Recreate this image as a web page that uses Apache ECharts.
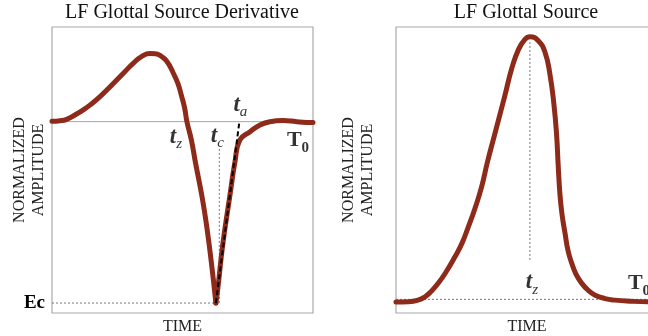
<!DOCTYPE html>
<html>
<head>
<meta charset="utf-8">
<script src="https://cdn.jsdelivr.net/npm/echarts@6/dist/echarts.min.js"></script>
<style>
html, body { margin: 0; padding: 0; background: #fff; }
#chart { width: 648px; height: 336px; }
</style>
</head>
<body>
<div id="chart"></div>
<script>
// 导数曲线 —— 开启相 (0 .. 最小点)
const derivOpenT = [0, 3.1, 5.6, 8.8, 12.0, 15.2, 18.4, 21.6, 24.8, 28.0, 31.1, 34.4, 37.5, 39.5, 41.4, 43.9, 46.5, 48.3, 49.7, 50.8, 51.7, 53.4, 55.0, 57.5, 59.3, 61.0, 62.8];
const derivOpenV = [0.002, 0.005, 0.013, 0.037, 0.065, 0.099, 0.138, 0.183, 0.230, 0.277, 0.322, 0.360, 0.376, 0.375, 0.365, 0.335, 0.267, 0.208, 0.138, 0.076, 0, -0.101, -0.228, -0.415, -0.58, -0.77, -1];
// 导数曲线 —— 返回相 (最小点 .. T0)
const derivReturnT = [62.8, 63.6, 65.5, 68.2, 70.1, 72.0, 75.9, 79.7, 83.5, 88.5, 93.8, 99.5, 100];
const derivReturnV = [-1, -0.912, -0.669, -0.404, -0.222, -0.101, -0.055, -0.018, 0, 0.006, 0, -0.005, -0.005];
// 声门源曲线
const sourceT = [0, 4.7, 8.4, 11.1, 13.4, 16.1, 19.1, 22.5, 25.2, 27.6, 30.2, 32.7, 34.9, 37.8, 41.6, 44.2, 46.7, 49.2, 51.1, 54.3, 56.9, 58.8, 60.3, 61.3, 61.9, 62.6, 63.4, 64.5, 65.6, 67.1, 68.7, 70.9, 73.3, 76.0, 79.8, 83.6, 89.3, 96.2, 100];
const sourceV = [-0.010, -0.009, -0.003, 0.010, 0.030, 0.061, 0.104, 0.162, 0.214, 0.276, 0.348, 0.429, 0.523, 0.633, 0.778, 0.880, 0.950, 0.990, 1.0, 0.985, 0.940, 0.854, 0.740, 0.626, 0.511, 0.397, 0.321, 0.253, 0.188, 0.137, 0.096, 0.061, 0.035, 0.016, 0.003, -0.003, -0.007, -0.009, -0.009];

// 关键时刻
const tz = 51.7;      // 导数过零
const tMin = 62.8;    // 最小点
const tc = 64.1;
const ta = 71.8;
const t0 = 100;
const ec = -1;
const tzSource = 51.1;

const zip = (xs, ys) => xs.map((x, i) => [x, ys[i]]);

const serif = 'Liberation Serif';
const red = '#8e2a1a';
const dotted = { color: '#777', width: 1, type: [2, 2] };

function curve(name, data, axis) {
    return {
        name: name, type: 'line', data: data,
        xAxisIndex: axis, yAxisIndex: axis,
        smooth: 0.5, symbol: 'none',
        lineStyle: { color: red, width: 5, cap: 'round', join: 'round' },
        z: 3
    };
}

function guide(name, data, axis, style, z) {
    return {
        name: name, type: 'line', data: data,
        xAxisIndex: axis, yAxisIndex: axis,
        symbol: 'none', lineStyle: style, z: z || 2
    };
}

function note(text, point, offset, axis) {
    return {
        type: 'scatter', data: [point], xAxisIndex: axis, yAxisIndex: axis,
        symbolSize: 0, silent: true, z: 5,
        label: {
            show: true, position: 'inside', offset: offset,
            formatter: text,
            rich: {
                t: { fontFamily: serif, fontSize: 23, fontStyle: 'italic', fontWeight: 'bold', color: '#000', lineHeight: 30 },
                s: { fontFamily: serif, fontSize: 15, fontStyle: 'italic', color: '#000', verticalAlign: 'bottom' },
                T: { fontFamily: serif, fontSize: 22, fontWeight: 'bold', color: '#000', lineHeight: 30 },
                n: { fontFamily: serif, fontSize: 15, fontWeight: 'bold', color: '#000', verticalAlign: 'bottom' }
            }
        }
    };
}

const nameStyle = { fontFamily: serif, fontSize: 16, color: '#222', lineHeight: 19 };

const chart = echarts.init(document.getElementById('chart'));

chart.setOption({
    animation: false,
    title: [
        { text: 'LF Glottal Source Derivative', left: 182, top: 3, textAlign: 'center', padding: 0,
          textStyle: { fontFamily: serif, fontSize: 20, fontWeight: 'normal', color: '#111' } },
        { text: 'LF Glottal Source', left: 526, top: 3, textAlign: 'center', padding: 0,
          textStyle: { fontFamily: serif, fontSize: 20, fontWeight: 'normal', color: '#111' } }
    ],
    grid: [
        { left: 52, top: 27, width: 261, height: 286, show: true, borderColor: '#aaa', borderWidth: 1.2, outerBoundsMode: 'none' },
        { left: 396, top: 27, width: 262, height: 286, show: true, borderColor: '#aaa', borderWidth: 1.2, outerBoundsMode: 'none' }
    ],
    xAxis: [0, 1].map(i => ({
        type: 'value', gridIndex: i, min: 0, max: 100,
        axisLine: { show: false }, axisTick: { show: false }, axisLabel: { show: false }, splitLine: { show: false },
        name: 'TIME', nameLocation: 'middle', nameGap: 4, nameTextStyle: nameStyle
    })),
    yAxis: [
        {
            type: 'value', gridIndex: 0, min: -1.055, max: 0.522,
            axisLine: { show: false }, axisTick: { show: false }, splitLine: { show: false },
            axisLabel: {
                customValues: [ec], formatter: () => 'Ec', margin: 7,
                fontFamily: serif, fontSize: 19, fontWeight: 'bold', color: '#000'
            },
            name: 'NORMALIZED\nAMPLITUDE', nameLocation: 'middle', nameGap: 4, nameMoveOverlap: false,
            nameTextStyle: nameStyle
        },
        {
            type: 'value', gridIndex: 1, min: -0.052, max: 1.037,
            axisLine: { show: false }, axisTick: { show: false }, splitLine: { show: false }, axisLabel: { show: false },
            name: 'NORMALIZED\nAMPLITUDE', nameLocation: 'middle', nameGap: 19, nameMoveOverlap: false,
            nameTextStyle: nameStyle
        }
    ],
    series: [
        // 左图
        guide('zero', [[0, 0], [t0, 0]], 0, { color: '#a5a5a5', width: 1 }),
        guide('ecLine', [[0, ec], [tMin, ec]], 0, dotted),
        guide('tcLine', [[tc, -0.15], [tc, ec]], 0, dotted),
        curve('open', zip(derivOpenT, derivOpenV), 0),
        curve('return', zip(derivReturnT, derivReturnV), 0),
        guide('tangent', [[tMin, ec], [ta, 0]], 0, { color: '#000', width: 2, type: [5, 3] }, 4),
        note('{t|t}{s|z}', [tz, 0], [-11, 15], 0),
        note('{t|t}{s|c}', [tc, 0], [-2, 14], 0),
        note('{t|t}{s|a}', [ta, 0], [1, -17], 0),
        note('{T|T}{n|0}', [t0, 0], [-15, 19], 0),
        // 右图
        guide('base', [[0, 0], [t0, 0]], 1, dotted),
        guide('tzLine', [[tzSource, 0.15], [tzSource, 0.98]], 1, dotted),
        curve('source', zip(sourceT, sourceV), 1),
        note('{t|t}{s|z}', [tzSource, 0], [2, -17], 1),
        note('{T|T}{n|0}', [t0, 0], [-19, -16], 1)
    ]
});

window.addEventListener('resize', function() {
    chart.resize();
});
</script>
</body>
</html>
